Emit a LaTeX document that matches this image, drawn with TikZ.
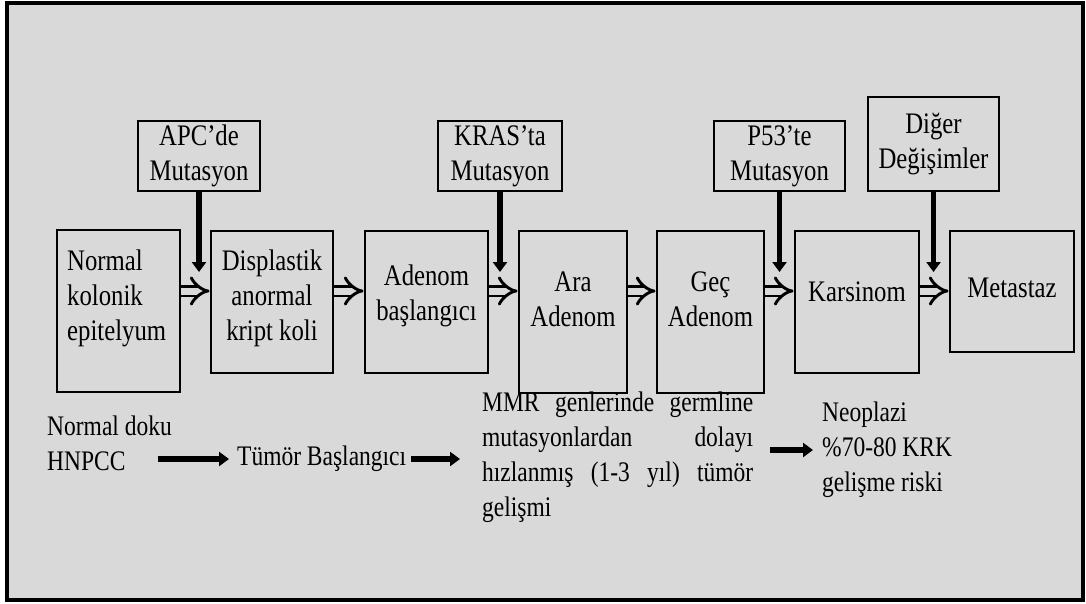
\documentclass[tikz,border=0pt]{standalone}
\usepackage{fontspec}
\setmainfont{Liberation Serif}[FakeStretch=0.83]
\usetikzlibrary{arrows.meta}

\definecolor{panelgray}{HTML}{D9D9D9}

\tikzset{
  stagebox/.style={draw=black, line width=2.8pt, inner sep=0pt},
  mutbox/.style={draw=black, line width=2.8pt, align=center, inner sep=0pt, font=\fontsize{29.8}{35}\selectfont},
  txt/.style={align=center, inner sep=0pt},
  boxtxt/.style={txt, font=\fontsize{29.8}{35}\selectfont},
  push/.style={line width=5.5pt, -{Triangle[length=10pt,width=14pt]}},
  dblarrow/.style={double=panelgray, double distance=7pt, line width=2.9pt, -{Implies[scale=1.2]}}
}

\begin{document}
\begin{tikzpicture}[x=1pt, y=-1pt, font=\fontsize{28.3}{35}\selectfont]
\useasboundingbox (0,0) rectangle (1086,603);
\fill[white] (0,0) rectangle (1086,603);
\draw[line width=4pt, fill=panelgray] (6.5,2.5) rectangle (1083,599.5);

% stages
\node[stagebox, minimum width=123pt, minimum height=162pt] (normal) at (118.5,311) {};
\node[boxtxt, align=left, anchor=west] (normaltxt) at (67,298) {Normal\\kolonik\\epitelyum};
\node[stagebox, minimum width=122pt, minimum height=142pt] (displastik) at (272,302) {};
\node[boxtxt] (displastiktxt) at (272,298) {Displastik\\anormal\\kript koli};
\node[stagebox, minimum width=123pt, minimum height=142pt] (basla) at (426.5,302) {};
\node[boxtxt] (baslatxt) at (426.5,296) {Adenom\\başlangıcı};
\node[stagebox, minimum width=108pt, minimum height=162pt] (ara) at (573,312) {};
\node[boxtxt] (aratxt) at (573,299) {Ara\\Adenom};
\node[stagebox, minimum width=107pt, minimum height=162pt] (gec) at (710.5,312) {};
\node[boxtxt] (gectxt) at (710.5,299) {Geç\\Adenom};
\node[stagebox, minimum width=124pt, minimum height=142pt] (karsinom) at (857,302) {};
\node[boxtxt] (karsinomtxt) at (857,292) {Karsinom};
\node[stagebox, minimum width=124pt, minimum height=121pt] (metastaz) at (1012,291.5) {};
\node[boxtxt] (metastaztxt) at (1012,288) {Metastaz};

% mutations
\node[mutbox, minimum width=122pt, minimum height=70pt] (apc) at (199,156) {APC’de\\Mutasyon};
\node[mutbox, minimum width=124pt, minimum height=70pt] (kras) at (500,156) {KRAS’ta\\Mutasyon};
\node[mutbox, minimum width=131pt, minimum height=70pt] (p53) at (779.5,156) {P53’te\\Mutasyon};
\node[mutbox, minimum width=131pt, minimum height=94pt] (diger) at (933.5,144) {Diğer\\Değişimler};

\coordinate (flow) at (0,291);
\coordinate (tipline) at (0,272);

\draw[push] (apc.south) -- (apc.south |- tipline);
\draw[push] (kras.south) -- (kras.south |- tipline);
\draw[push] (p53.south) -- (p53.south |- tipline);
\draw[push] (diger.south) -- (diger.south |- tipline);

\draw[dblarrow] (normal.east |- flow) -- (displastik.west |- flow);
\draw[dblarrow] (displastik.east |- flow) -- (basla.west |- flow);
\draw[dblarrow] (basla.east |- flow) -- (ara.west |- flow);
\draw[dblarrow] (ara.east |- flow) -- (gec.west |- flow);
\draw[dblarrow] (gec.east |- flow) -- (karsinom.west |- flow);
\draw[dblarrow] (karsinom.east |- flow) -- (metastaz.west |- flow);

% HNPCC
\node[txt, align=left, anchor=west] (hnpcc) at (47,443) {Normal doku\\HNPCC};
\node[txt, anchor=west] (tumor) at (237,459) {Tümör Başlangıcı};
\node[txt, align=left, anchor=west] (mmr) at (482,457) {\makebox[271pt][s]{MMR genlerinde germline}\\
  \makebox[271pt][s]{mutasyonlardan dolayı}\\
  \makebox[271pt][s]{hızlanmış (1-3 yıl) tümör}\\
  gelişmi};
\node[txt, align=left, anchor=west] (neoplazi) at (822,450) {Neoplazi\\\%70-80 KRK\\gelişme riski};

\draw[push] ([xshift=-79pt]tumor.west) -- ([xshift=-8pt]tumor.west);
\draw[push] ([xshift=5pt]tumor.east) -- ([xshift=-22pt]mmr.west |- tumor.east);
\draw[push] ([xshift=17pt]mmr.east |- neoplazi.west) -- ([xshift=-9pt]neoplazi.west);
\end{tikzpicture}
\end{document}
